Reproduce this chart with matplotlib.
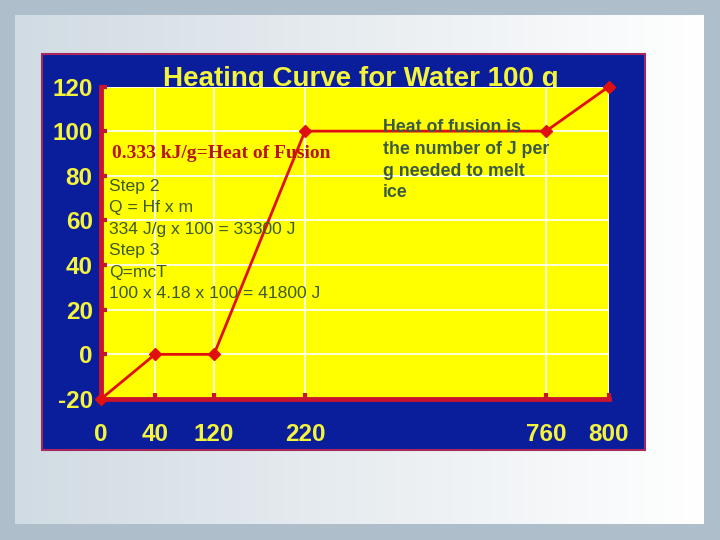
import matplotlib

matplotlib.use("Agg")
import matplotlib.pyplot as plt
import numpy as np
from matplotlib.patches import Rectangle

heat_added = [0, 40, 120, 220, 760, 800]
temperature = [-20, 0, 0, 100, 100, 120]
y_ticks = [-20, 0, 20, 40, 60, 80, 100, 120]
title = "Heating Curve for Water 100 g"
fusion_note = "0.333 kJ/g=Heat of Fusion"
step_lines = [
    "Step 2",
    "Q = Hf x m",
    "334 J/g x 100 = 33300 J",
    "Step 3",
    "Q=mcT",
    "100 x 4.18 x 100 = 41800 J",
]
fusion_lines = ["Heat of fusion is", "the number of J per", "g needed to melt", "ice"]

# the slide's x axis is not linear, each tick sits at its own spot
tick_spots = [0, 54, 113, 204, 445, 508]

W, H = 720, 540
NAVY = "#0a1e9c"
YELLOW = "#ffff00"
LABEL = "#f4f43c"
SPINE = "#c8142e"
LINE = "#e01010"

plt.rcParams["axes.unicode_minus"] = False


def fx(x):
    return x / W


def fy(y):
    return 1 - y / H


fig = plt.figure(figsize=(7.2, 5.4), dpi=100)
fig.patch.set_facecolor("#aebfcb")

# slide background: pale panel with a soft left-to-right fade
bg = fig.add_axes([0, 0, 1, 1])
bg.set_zorder(-5)
bg.axis("off")
fade = np.linspace(0, 1, 256)
grad = np.empty((1, 256, 3))
grad[0, :, 0] = 0.82 + 0.18 * fade
grad[0, :, 1] = 0.86 + 0.14 * fade
grad[0, :, 2] = 0.89 + 0.11 * fade
bg.imshow(grad, aspect="auto", extent=[fx(15), fx(704), fy(524), fy(15)])
bg.set_xlim(0, 1)
bg.set_ylim(0, 1)

fig.patches.append(
    Rectangle((fx(42), fy(450)), fx(645) - fx(42), fy(54) - fy(450),
              transform=fig.transFigure, facecolor=NAVY, edgecolor="#a8285c",
              linewidth=1.5, zorder=-3)
)

fig.text(fx(361), fy(86), title, color=LABEL, fontsize=20, fontweight="bold",
         family="Liberation Sans", ha="center", va="baseline", zorder=-2)

ax = fig.add_axes([fx(101), fy(399), fx(609) - fx(101), fy(86.5) - fy(399)])
ax.set_facecolor(YELLOW)

forward = lambda v: np.interp(v, heat_added, tick_spots)
inverse = lambda v: np.interp(v, tick_spots, heat_added)
ax.set_xscale("function", functions=(forward, inverse))

ax.plot(heat_added, temperature, color=LINE, linewidth=2, marker="D",
        markersize=6.5, clip_on=False, zorder=4)

ax.set_xlim(0, 800)
ax.set_ylim(-20, 120)
ax.set_xticks(heat_added)
ax.set_yticks(y_ticks)
ax.grid(True, color="#fffff0", linewidth=1.3)
ax.set_axisbelow(True)

for side in ("top", "right"):
    ax.spines[side].set_visible(False)
for side in ("left", "bottom"):
    ax.spines[side].set_color(SPINE)
    ax.spines[side].set_linewidth(3.5)

ax.tick_params(axis="both", direction="in", length=4, width=3, color=SPINE)
ax.tick_params(axis="y", pad=6)
ax.tick_params(axis="x", pad=17)
ax.yaxis.get_major_ticks()[1].tick1line.set_color("black")
for lab in ax.get_xticklabels() + ax.get_yticklabels():
    lab.set_color(LABEL)
    lab.set_fontsize(17.5)
    lab.set_fontweight("bold")
    lab.set_family("Liberation Sans")

fig.text(fx(112), fy(158), fusion_note, color="#b81414", fontsize=14,
         fontweight="bold", family="Liberation Serif", va="baseline")

for i, line in enumerate(step_lines):
    fig.text(fx(109), fy(190.7 + 21.5 * i), line, color="#3a5a2a",
             fontsize=12.6, family="Liberation Sans", va="baseline")

for i, line in enumerate(fusion_lines):
    fig.text(fx(383), fy(132.5 + 21.5 * i), line, color="#3a5a44",
             fontsize=12.8, fontweight="bold", family="Liberation Sans",
             va="baseline")

fig.savefig("out.png", dpi=100, facecolor=fig.get_facecolor())
